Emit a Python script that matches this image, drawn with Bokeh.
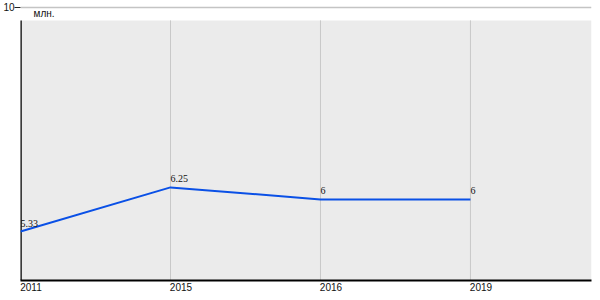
from bokeh.plotting import figure
from bokeh.models import FixedTicker, BoxAnnotation, Label, ColumnDataSource, LabelSet, Range1d
from bokeh.embed import file_html
from bokeh.resources import INLINE

years = ["2011", "2015", "2016", "2019"]
values = [5.33, 6.25, 6, 6]
value_labels = ["5.33", "6.25", "6", "6"]
y_top_tick = 10
unit = "млн."

idx = list(range(len(years)))
y_start, y_end = 4.31, 10.04
band_top = 9.73
x_end = 3.807

p = figure(width=600, height=300, output_backend="svg", toolbar_location=None,
           x_range=Range1d(0, x_end), y_range=Range1d(y_start, y_end),
           min_border_left=20, min_border_right=9, min_border_top=5, min_border_bottom=20)
p.outline_line_color = None
p.background_fill_color = "white"
p.border_fill_color = "white"
p.xgrid.visible = False
p.ygrid.ticker = FixedTicker(ticks=[y_top_tick])
p.ygrid.grid_line_color = "#c4c4c4"
p.ygrid.grid_line_width = 1.5

p.add_layout(BoxAnnotation(bottom=y_start, top=band_top, fill_color="#ebebeb", fill_alpha=1,
                           line_color=None, level="underlay"))

# vertical grid lines
p.segment(x0=idx[1:], x1=idx[1:], y0=[y_start] * 3, y1=[band_top] * 3,
          line_color="#c8c8c8", line_width=1)
# left black axis line
p.segment(x0=[0], x1=[0], y0=[y_start], y1=[band_top], line_color="black", line_width=2.5)

src = ColumnDataSource(dict(x=idx, y=values, t=value_labels))
p.line("x", "y", source=src, line_color="#0a50e6", line_width=2)
p.add_layout(LabelSet(x="x", y="y", text="t", source=src, x_offset=0, y_offset=5,
                      text_font="Liberation Sans", text_font_size="10px", text_color="#111",
                      text_align="left", text_baseline="bottom"))

p.add_layout(Label(x=0, y=y_top_tick, text=unit, x_offset=13, y_offset=-1,
                   text_font="Liberation Sans", text_font_size="10px", text_color="#111",
                   text_baseline="top"))

# y axis: only the top tick
p.yaxis.ticker = FixedTicker(ticks=[y_top_tick])
p.yaxis.axis_line_color = None
p.yaxis.major_tick_out = 6
p.yaxis.major_tick_in = 0
p.yaxis.major_tick_line_color = "#222"
p.yaxis.minor_tick_line_color = None
p.yaxis.major_label_standoff = 0
p.yaxis.major_label_text_font = "Liberation Sans"
p.yaxis.major_label_text_font_size = "10px"
p.yaxis.major_label_text_color = "#111"

# x axis: labels left-aligned at tick positions
d = 0.07
p.xaxis.ticker = FixedTicker(ticks=[i + d for i in idx])
p.xaxis.major_label_overrides = {i + d: y for i, y in zip(idx, years)}
p.xaxis.axis_line_color = "black"
p.xaxis.axis_line_width = 2
p.xaxis.major_tick_line_color = None
p.xaxis.major_tick_out = 0
p.xaxis.major_tick_in = 0
p.xaxis.minor_tick_line_color = None
p.xaxis.major_label_standoff = 2
p.xaxis.major_label_text_font = "Liberation Sans"
p.xaxis.major_label_text_font_size = "10px"
p.xaxis.major_label_text_color = "#111"

open("out.html", "w").write(file_html(p, INLINE))
